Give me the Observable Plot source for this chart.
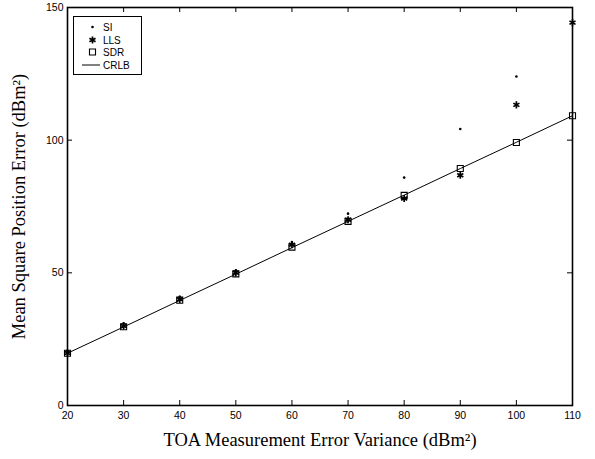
<!DOCTYPE html>
<html><head><meta charset="utf-8">
<script src="https://cdn.jsdelivr.net/npm/d3@7"></script>
<script src="https://cdn.jsdelivr.net/npm/@observablehq/plot@0.6"></script>
<style>
body{margin:0;background:#fff}
#wrap{position:relative;width:595px;height:459px}
#legend{position:absolute;left:73px;top:16px;width:69px;height:59px;border:1px solid #000;background:#fff;font-family:"Liberation Sans",Arial,sans-serif;font-size:10px;box-sizing:border-box}
#legend .row{position:absolute;left:0;height:12px;display:flex;align-items:center}
#legend .row span{position:absolute;left:29px;white-space:nowrap}
</style>
</head><body><div id="wrap"></div>
<script>
const xVals = [20, 30, 40, 50, 60, 70, 80, 90, 100, 110];
const siVals = [20.5, 31, 41, 51, 61.6, 72.3, 85.9, 104.2, 124, null];
const llsVals = [19.8, 30, 40, 50, 60.6, 70, 78, 86.8, 113.3, 144.3];
const sdrVals = [19.7, 29.7, 39.7, 49.6, 59.7, 69.4, 79.2, 89.3, 99.1, 109.2];
const crlbVals = [19.7, 29.6, 39.6, 49.5, 59.5, 69.4, 79.3, 89.3, 99.2, 109.2];
const xTicks = [20, 30, 40, 50, 60, 70, 80, 90, 100, 110];
const yTicks = [0, 50, 100, 150];
const seriesNames = ["SI", "LLS", "SDR", "CRLB"];
const xLabel = "TOA Measurement Error Variance (dBm²)";
const yLabel = "Mean Square Position Error (dBm²)";

const W = 595, H = 459;
const mL = 67, mR = 23, mT = 7, mB = 54;
const innerW = W - mL - mR, innerH = H - mT - mB;
const tickLen = 5;

const mk = (vals) => xVals.map((x, i) => ({x, y: vals[i]})).filter(d => d.y != null);

const sans = "Liberation Sans, Arial, sans-serif";
const serif = "Liberation Serif, Times New Roman, serif";

const chart = Plot.plot({
  width: W, height: H,
  marginLeft: mL, marginRight: mR, marginTop: mT, marginBottom: mB,
  x: {domain: [20, 110]},
  y: {domain: [0, 150]},
  style: {background: "#fff", color: "#000", fontFamily: sans},
  marks: [
    // inward ticks on all four sides
    Plot.ruleX(xTicks, {x: d => d, insetTop: innerH - tickLen, stroke: "#000", strokeWidth: 1}),
    Plot.ruleX(xTicks, {x: d => d, insetBottom: innerH - tickLen, stroke: "#000", strokeWidth: 1}),
    Plot.ruleY(yTicks, {y: d => d, insetRight: innerW - tickLen, stroke: "#000", strokeWidth: 1}),
    Plot.ruleY(yTicks, {y: d => d, insetLeft: innerW - tickLen, stroke: "#000", strokeWidth: 1}),
    Plot.frame({stroke: "#000", strokeWidth: 1.6}),
    Plot.axisX(xTicks, {tickSize: 0, tickPadding: 6, fontSize: 10.5, fontFamily: sans, label: null}),
    Plot.axisY(yTicks, {tickSize: 0, tickPadding: 4, fontSize: 10.5, fontFamily: sans, label: null}),
    Plot.line(mk(crlbVals), {x: "x", y: "y", stroke: "#000", strokeWidth: 1}),
    Plot.dot(mk(sdrVals), {x: "x", y: "y", symbol: "square", r: 3.4, stroke: "#000", strokeWidth: 1.1, fill: "none"}),
    Plot.dot(mk(llsVals), {x: "x", y: "y", symbol: "asterisk", r: 3.3, stroke: "#000", strokeWidth: 1.7}),
    Plot.dot(mk(siVals), {x: "x", y: "y", r: 1.3, fill: "#000", stroke: "none"}),
    Plot.text([xLabel], {frameAnchor: "bottom", textAnchor: "middle", dy: 40, fontFamily: serif, fontSize: 18.5, fill: "#000"}),
    Plot.text([yLabel], {frameAnchor: "left", textAnchor: "middle", dx: -48, rotate: -90, fontFamily: serif, fontSize: 18.5, fill: "#000"})
  ]
});

const wrap = document.getElementById("wrap");
wrap.appendChild(chart);

// legend
const legend = document.createElement("div");
legend.id = "legend";
const icons = [
  '<svg width="24" height="12"><circle cx="18.5" cy="6" r="1.3" fill="#000"/></svg>',
  '<svg width="24" height="12"><path transform="translate(18.5,6)" d="' + d3.symbol(d3.symbolAsterisk, Math.PI * 3.3 * 3.3)() + '" stroke="#000" stroke-width="1.7" fill="none"/></svg>',
  '<svg width="24" height="12"><path transform="translate(18.5,6)" d="' + d3.symbol(d3.symbolSquare, Math.PI * 3.4 * 3.4)() + '" stroke="#000" stroke-width="1.1" fill="none"/></svg>',
  '<svg width="28" height="12"><line x1="8" x2="26" y1="6" y2="6" stroke="#000" stroke-width="1"/></svg>'
];
const rowTops = [4, 17, 29, 42];
seriesNames.forEach((name, i) => {
  const row = document.createElement("div");
  row.className = "row";
  row.style.top = rowTops[i] + "px";
  row.innerHTML = icons[i] + "<span>" + name + "</span>";
  legend.appendChild(row);
});
wrap.appendChild(legend);
</script>
</body></html>
